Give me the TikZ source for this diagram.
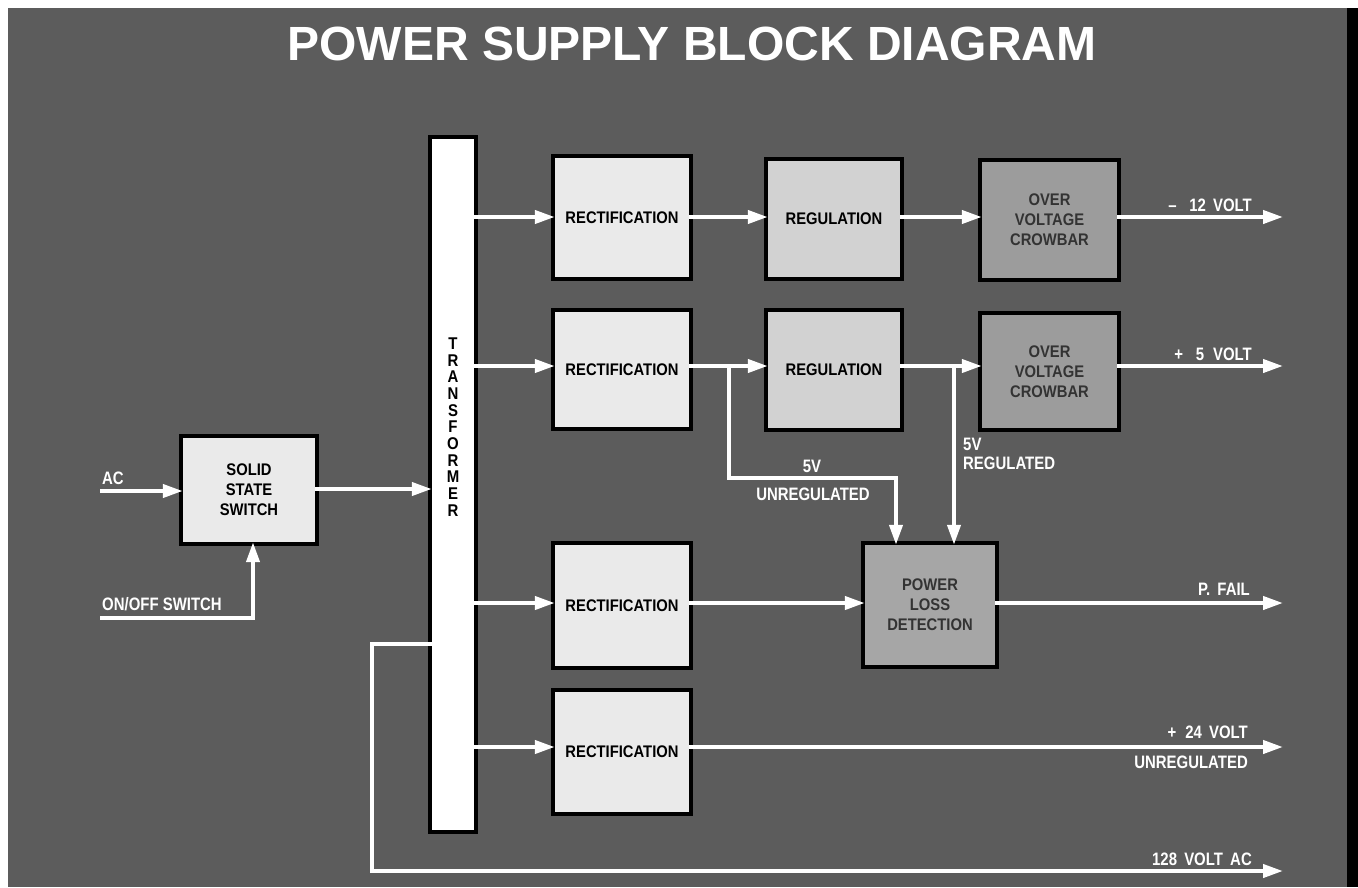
\documentclass[tikz,border=0pt]{standalone}
\usepackage{fontspec}
\setmainfont{Liberation Sans}
\newfontfamily\condA{Liberation Sans}[FakeStretch=0.83]
\newfontfamily\condB{Liberation Sans}[FakeStretch=0.88]
\usetikzlibrary{arrows.meta}
\definecolor{bgc}{HTML}{5C5C5C}
\definecolor{rectc}{HTML}{EAEAEA}
\definecolor{regc}{HTML}{D2D2D2}
\definecolor{ovcc}{HTML}{9C9C9C}
\definecolor{pldc}{HTML}{A6A6A6}
\definecolor{darktxt}{HTML}{333333}
\tikzset{
  blk/.style={preaction={draw=black,line width=8pt}, inner sep=0pt, align=center,
    font=\condB\bfseries\fontsize{16.8}{20}\selectfont, text=black},
  rectbox/.style={blk, fill=rectc, minimum width=134, minimum height=119},
  regbox/.style={blk, fill=regc, minimum width=132, minimum height=116},
  ovcbox/.style={blk, fill=ovcc, minimum width=135, minimum height=115, text=darktxt},
  pldbox/.style={blk, fill=pldc, minimum width=130, minimum height=120, text=darktxt},
  lbl/.style={text=white, inner sep=0pt, font=\condA\bfseries\fontsize{18}{18}\selectfont},
  wline/.style={draw=white, line width=4pt},
  arr/.style={wline, -{Triangle[length=20pt,width=13pt]}},
}
\begin{document}
\begin{tikzpicture}[x=1pt,y=-1pt]
\useasboundingbox (0,0) rectangle (1358,887);
\fill[white] (0,0) rectangle (1358,887);
\fill[bgc] (8,8) rectangle (1358,887);
\fill[black] (1347,8) rectangle (1358,887);

% title
\node[anchor=base, text=white, inner sep=0pt, font=\bfseries\fontsize{48}{48}\selectfont] (title) at (692,60) {POWER SUPPLY BLOCK DIAGRAM};

% blocks
\node[blk, fill=white, minimum width=42, minimum height=691] (tr) at (453,484.5) {};
\node[text=black, inner sep=0pt, align=center, font=\condB\bfseries\fontsize{17}{16.7}\selectfont] (trtxt) at (453,427) {T\\R\\A\\N\\S\\F\\O\\R\\M\\E\\R};
\node[blk, fill=rectc, minimum width=132, minimum height=104] (sss) at (249,490) {SOLID\\STATE\\SWITCH};

\node[rectbox] (r1) at (622,217.5) {RECTIFICATION};
\node[rectbox, minimum height=115] (r2) at (622,369.5) {RECTIFICATION};
\node[rectbox, minimum height=121] (r3) at (622,605.5) {RECTIFICATION};
\node[rectbox, minimum height=120] (r4) at (622,752) {RECTIFICATION};

\node[regbox] (g1) at (834,219) {REGULATION};
\node[regbox] (g2) at (834,370) {REGULATION};

\node[ovcbox, minimum height=116] (c1) at (1049.5,220) {OVER\\VOLTAGE\\CROWBAR};
\node[ovcbox, minimum height=113] (c2) at (1049.5,371.5) {OVER\\VOLTAGE\\CROWBAR};

\node[pldbox] (pld) at (930,605) {POWER\\LOSS\\DETECTION};

% helper coordinates
\coordinate (ya1) at (0,217);
\coordinate (ya2) at (0,366);
\coordinate (ya3) at (0,603);
\coordinate (ya4) at (0,747);
\coordinate (yac) at (0,489);
\coordinate (acin) at (100,491);
\coordinate (sw) at (100,618);
\coordinate (o1) at (1283,217);
\coordinate (o2) at (1283,366);
\coordinate (o3) at (1283,603);
\coordinate (o4) at (1283,747);
\coordinate (b1) at (729,366);
\coordinate (b2) at (896,478);
\coordinate (b3) at (954,366);
\coordinate (v1) at (372,644);
\coordinate (v2) at (372,871);
\coordinate (o5) at (1283,871);

% connectors
\draw[arr] (acin) -- (sss.west |- acin);
\draw[arr] (sw) -| ([xshift=4pt]sss.south);
\draw[arr] (sss.east |- yac) -- (tr.west |- yac);

\draw[arr] (tr.east |- ya1) -- (r1.west |- ya1);
\draw[arr] (r1.east |- ya1) -- (g1.west |- ya1);
\draw[arr] (g1.east |- ya1) -- (c1.west |- ya1);
\draw[arr] (c1.east |- ya1) -- (o1);

\draw[arr] (tr.east |- ya2) -- (r2.west |- ya2);
\draw[arr] (r2.east |- ya2) -- (g2.west |- ya2);
\draw[arr] (g2.east |- ya2) -- (c2.west |- ya2);
\draw[arr] (c2.east |- ya2) -- (o2);
\draw[arr] (b1) |- (b2) -- (b2 |- pld.north);
\draw[arr] (b3) -- (b3 |- pld.north);

\draw[arr] (tr.east |- ya3) -- (r3.west |- ya3);
\draw[arr] (r3.east |- ya3) -- (pld.west |- ya3);
\draw[arr] (pld.east |- ya3) -- (o3);

\draw[arr] (tr.east |- ya4) -- (r4.west |- ya4);
\draw[arr] (r4.east |- ya4) -- (o4);

\draw[arr] (tr.west |- v1) -- (v1) -- (v2) -- (o5);

% labels
\node[lbl] (lac) at (113,478) {AC};
\node[lbl] (lsw) at (162,604) {ON/OFF SWITCH};
\node[lbl, anchor=east] (l12) at (1252,205) {–\hspace{0.7em}12\hspace{0.4em}VOLT};
\node[lbl, anchor=east] (l5) at (1252,354) {+\hspace{0.7em}5\hspace{0.5em}VOLT};
\node[lbl, anchor=east] (lpf) at (1250,589) {P.\hspace{0.4em}FAIL};
\node[lbl, anchor=east] (l24) at (1248,732) {+\hspace{0.5em}24\hspace{0.4em}VOLT};
\node[lbl, anchor=east] (l24u) at (1248,762) {UNREGULATED};
\node[lbl, anchor=east] (l128) at (1252,859) {128\hspace{0.4em}VOLT\hspace{0.4em}AC};
\node[lbl] (l5u) at (812,466) {5V};
\node[lbl] (l5uu) at (813,494) {UNREGULATED};
\node[lbl, anchor=west] (l5r) at (963,444) {5V};
\node[lbl, anchor=west] (l5rr) at (963,463) {REGULATED};
\end{tikzpicture}
\end{document}
